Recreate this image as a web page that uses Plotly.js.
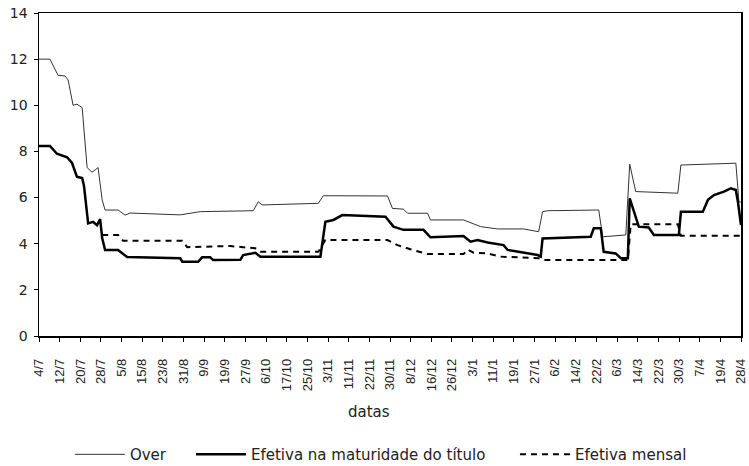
<!DOCTYPE html>
<html>
<head>
<meta charset="utf-8">
<script src="https://cdn.plot.ly/plotly-3.0.1.min.js"></script>
<style>html,body{margin:0;padding:0;background:#fff}#chart{width:749px;height:466px}</style>
</head>
<body>
<div id="chart"></div>
<script>
// Tick labels (one per tick; x values below are expressed in tick-index units)
const tickLabels = ["4/7","12/7","20/7","28/7","5/8","15/8","23/8","31/8","9/9","19/9","27/9",
  "6/10","17/10","25/10","3/11","11/11","22/11","30/11","8/12","16/12","26/12","3/1","11/1",
  "19/1","27/1","6/2","14/2","22/2","6/3","14/3","22/3","30/3","7/4","19/4","28/4"];

// Over
const overX = [0,0.53,0.92,1.26,1.41,1.65,1.84,2.09,2.33,2.57,2.72,2.86,3.06,3.20,3.83,4.17,4.41,6.84,7.81,
  10.38,10.62,10.81,13.53,13.77,16.88,17.12,17.65,17.85,18.82,18.96,20.56,20.90,21.24,21.39,22.21,23.47,24.20,
  24.39,24.64,27.11,27.30,28.42,28.61,28.90,30.94,31.09,33.75,33.90,34.0];
const overY = [12.0,12.0,11.3,11.27,11.1,10.0,10.05,9.9,7.3,7.1,7.2,7.3,5.9,5.46,5.46,5.24,5.33,5.25,5.39,
  5.43,5.82,5.68,5.75,6.08,6.07,5.53,5.5,5.32,5.32,5.03,5.03,4.91,4.81,4.74,4.64,4.64,4.52,
  5.39,5.43,5.46,4.3,4.38,7.45,6.26,6.19,7.41,7.49,5.82,5.8];

// Efetiva na maturidade do título
const matX = [0,0.53,0.87,1.36,1.60,1.84,2.09,2.18,2.38,2.62,2.81,2.96,3.06,3.20,3.83,4.07,4.27,6.84,6.94,7.71,
  7.90,8.29,8.44,9.75,9.89,10.48,10.72,13.63,13.87,14.26,14.69,16.78,17.17,17.65,18.62,18.96,20.56,20.90,21.24,
  21.73,22.50,22.70,24.15,24.30,24.39,26.72,26.87,27.21,27.35,27.93,28.18,28.52,28.61,29.05,29.53,29.78,30.99,
  31.09,32.15,32.40,32.69,33.17,33.51,33.75,33.85,34.0];
const matY = [8.24,8.24,7.9,7.75,7.5,6.9,6.85,6.5,4.88,4.95,4.8,5.07,4.25,3.73,3.73,3.58,3.42,3.37,3.22,3.22,
  3.41,3.41,3.29,3.3,3.51,3.61,3.44,3.44,4.95,5.03,5.24,5.17,4.74,4.6,4.6,4.28,4.33,4.09,4.16,
  4.05,3.94,3.73,3.51,3.44,4.23,4.3,4.67,4.67,3.65,3.58,3.37,3.37,5.97,4.74,4.7,4.38,4.38,
  5.39,5.39,5.9,6.11,6.26,6.4,6.33,5.82,4.81];

// Efetiva mensal
const mensalX = [3.06,3.83,4.07,6.94,7.18,9.26,10.48,10.72,13.53,13.87,16.88,17.36,17.99,18.82,20.56,20.76,21.05,
  21.73,22.36,24.20,24.54,28.52,28.66,30.94,31.09,34.0];
const mensalY = [4.38,4.38,4.13,4.13,3.85,3.9,3.8,3.65,3.65,4.16,4.16,3.94,3.76,3.55,3.55,3.75,3.61,
  3.58,3.44,3.37,3.29,3.29,4.84,4.84,4.35,4.35];

const tickIdx = tickLabels.map((_, i) => i);
const yTicks = [0, 2, 4, 6, 8, 10, 12, 14];

const traces = [
  {x: overX, y: overY, mode: 'lines', name: 'Over', legend: 'legend',
   line: {color: '#333', width: 1}},
  {x: matX, y: matY, mode: 'lines', name: 'Efetiva na maturidade do título', legend: 'legend2',
   line: {color: '#000', width: 2.5}},
  {x: mensalX, y: mensalY, mode: 'lines', name: 'Efetiva mensal', legend: 'legend3',
   line: {color: '#000', width: 2, dash: '6px,5px'}}
];

const hFont = 'DejaVu Sans, Liberation Sans, sans-serif';
const legFont = {family: hFont, size: 15, color: '#222'};
const legY = -0.316;

const layout = {
  width: 749, height: 466,
  margin: {l: 39, r: 8, t: 13, b: 130, autoexpand: false},
  paper_bgcolor: '#fff', plot_bgcolor: '#fff',
  font: {family: hFont, color: '#222', size: 13},
  showlegend: true,
  legend: {orientation: 'h', x: 0.044, xanchor: 'left', y: legY, yanchor: 'top', font: legFont, itemwidth: 50},
  legend2: {orientation: 'h', x: 0.2165, xanchor: 'left', y: legY, yanchor: 'top', font: legFont, itemwidth: 50},
  legend3: {orientation: 'h', x: 0.678, xanchor: 'left', y: legY, yanchor: 'top', font: legFont, itemwidth: 50},
  xaxis: {
    range: [0, 34], tickmode: 'array', tickvals: tickIdx, ticktext: tickLabels,
    tickangle: -90, ticks: 'outside', ticklen: 4, tickcolor: '#000', tickwidth: 1,
    ticklabelstandoff: 12, automargin: false,
    showline: true, linecolor: '#000', linewidth: 1.5, mirror: true,
    showgrid: false, zeroline: false,
    tickfont: {family: 'Liberation Sans, Arial, sans-serif', size: 13, color: '#222'}
  },
  xaxis2: {
    overlaying: 'x', anchor: 'y', side: 'bottom', range: [0, 34],
    tickmode: 'array', tickvals: tickIdx, ticks: 'inside', ticklen: 4, tickcolor: '#000',
    showticklabels: false, showline: false, showgrid: false, zeroline: false, automargin: false
  },
  yaxis: {
    range: [0, 14], tickmode: 'array', tickvals: yTicks,
    ticks: 'outside', ticklen: 4, tickcolor: '#000', ticklabelstandoff: 3, automargin: false,
    showline: true, linecolor: '#000', linewidth: 1.5, mirror: true,
    showgrid: false, zeroline: false, tickfont: {family: hFont, size: 14, color: '#222'}
  },
  yaxis2: {
    overlaying: 'y', anchor: 'x', side: 'left', range: [0, 14],
    tickmode: 'array', tickvals: yTicks, ticks: 'inside', ticklen: 4, tickcolor: '#000',
    showticklabels: false, showline: false, showgrid: false, zeroline: false, automargin: false
  },
  annotations: [{
    text: 'datas', xref: 'paper', yref: 'paper', x: 0.47, y: -0.235, xanchor: 'center', yanchor: 'middle',
    showarrow: false, font: {family: hFont, size: 15, color: '#222'}
  }]
};

Plotly.newPlot('chart', traces, layout, {displayModeBar: false, staticPlot: true});
</script>
</body>
</html>
